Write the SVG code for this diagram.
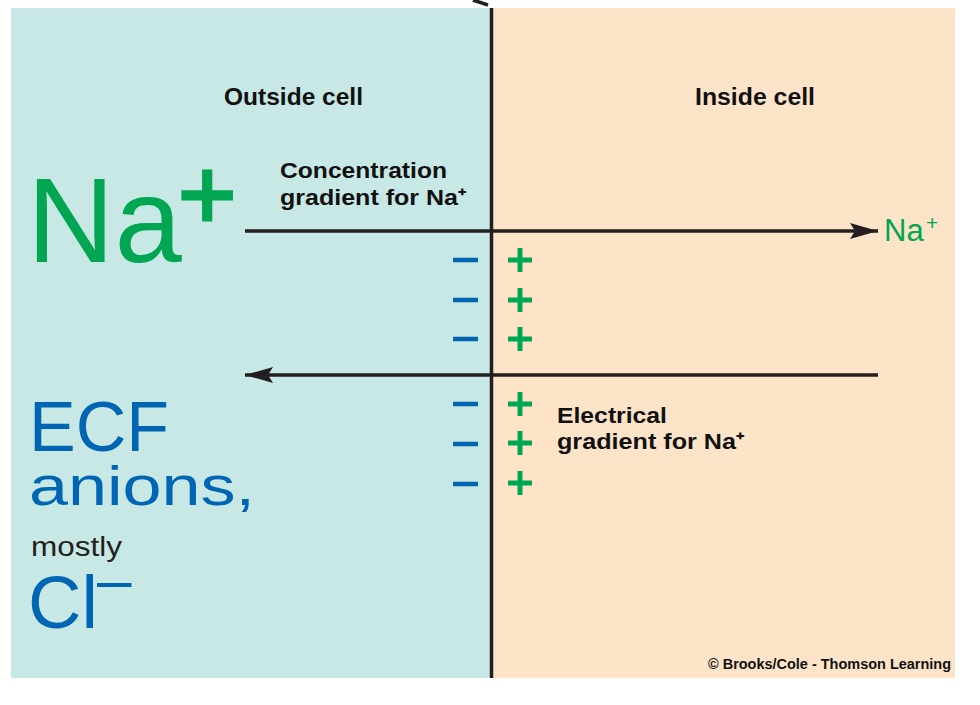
<svg xmlns="http://www.w3.org/2000/svg" width="980" height="705" viewBox="0 0 980 705">
<defs>
<style>
.lbl{font-family:"Liberation Sans",Arial,sans-serif;font-weight:bold;fill:#111;}
.big{font-family:"Liberation Sans",Arial,sans-serif;}
.g{fill:#00a651;}
.b{fill:#0066b3;}
.minus{stroke:#0066b3;stroke-width:4.5;}
.plus{stroke:#00a651;stroke-width:5;}
.ln{stroke:#231f20;stroke-width:3.5;fill:none;}
</style>
<marker id="ah" markerUnits="userSpaceOnUse" markerWidth="30" markerHeight="18" refX="28" refY="8" orient="auto">
<path d="M0,0 L28,8 L0,16 L5,8 Z" fill="#231f20"/>
</marker>
</defs>
<rect width="980" height="705" fill="#ffffff"/>
<g id="outside-panel">
<rect x="11" y="8" width="481" height="670" fill="#c7e8e5"/>
</g>
<g id="inside-panel">
<rect x="492" y="8" width="463" height="670" fill="#fde4c9"/>
</g>
<g id="connectors">
<line class="ln" x1="473" y1="0" x2="488" y2="5" stroke-width="3"/>
<line class="ln" x1="491.5" y1="8" x2="491.5" y2="678"/>
<line class="ln" x1="245" y1="231" x2="878" y2="231" marker-end="url(#ah)"/>
<line class="ln" x1="878" y1="375" x2="245" y2="375" marker-end="url(#ah)"/>
</g>
<g id="label-outside"><text class="lbl" x="224" y="105" font-size="23" textLength="139" lengthAdjust="spacingAndGlyphs">Outside cell</text></g>
<g id="label-inside"><text class="lbl" x="695" y="105" font-size="23" textLength="120" lengthAdjust="spacingAndGlyphs">Inside cell</text></g>
<g id="conc-gradient">
<text class="lbl" x="280" y="178" font-size="22" textLength="167" lengthAdjust="spacingAndGlyphs">Concentration</text>
<text class="lbl" x="280" y="205" font-size="22" textLength="186" lengthAdjust="spacingAndGlyphs">gradient for Na⁺</text>
</g>
<g id="elec-gradient">
<text class="lbl" x="557" y="423" font-size="22" textLength="110" lengthAdjust="spacingAndGlyphs">Electrical</text>
<text class="lbl" x="557" y="449" font-size="22" textLength="187" lengthAdjust="spacingAndGlyphs">gradient for Na⁺</text>
</g>
<g id="na-big">
<text class="big g" x="27" y="262" font-size="121">Na</text>
<text class="big g" x="178" y="229" font-size="100" stroke="#00a651" stroke-width="3">+</text>
</g>
<g id="na-right">
<text class="big g" x="884" y="241" font-size="31">Na</text>
<text class="big g" x="926" y="230" font-size="21">+</text>
</g>
<g id="ecf-anions">
<text class="big b" x="29" y="451" font-size="71" textLength="140" lengthAdjust="spacingAndGlyphs">ECF</text>
<text class="big b" x="29" y="505" font-size="56" textLength="226" lengthAdjust="spacingAndGlyphs">anions,</text>
<text class="big" x="31" y="556" font-size="27" fill="#231f20" textLength="91" lengthAdjust="spacingAndGlyphs">mostly</text>
<text class="big b" x="28" y="628" font-size="74">Cl</text>
<text class="big b" x="97" y="601" font-size="62">–</text>
</g>
<g id="charges">
<line class="minus" x1="453" y1="260" x2="478" y2="260"/>
<line class="minus" x1="453" y1="300" x2="478" y2="300"/>
<line class="minus" x1="453" y1="339" x2="478" y2="339"/>
<line class="minus" x1="453" y1="404" x2="478" y2="404"/>
<line class="minus" x1="453" y1="444" x2="478" y2="444"/>
<line class="minus" x1="453" y1="484" x2="478" y2="484"/>
<path class="plus" d="M508,260 H532 M520,248 V272"/>
<path class="plus" d="M508,300 H532 M520,288 V312"/>
<path class="plus" d="M508,339 H532 M520,327 V351"/>
<path class="plus" d="M508,404 H532 M520,392 V416"/>
<path class="plus" d="M508,443 H532 M520,431 V455"/>
<path class="plus" d="M508,483 H532 M520,471 V495"/>
</g>
<g id="copyright"><text class="lbl" x="708" y="669" font-size="14.5" textLength="243" lengthAdjust="spacingAndGlyphs">© Brooks/Cole - Thomson Learning</text></g>
</svg>
